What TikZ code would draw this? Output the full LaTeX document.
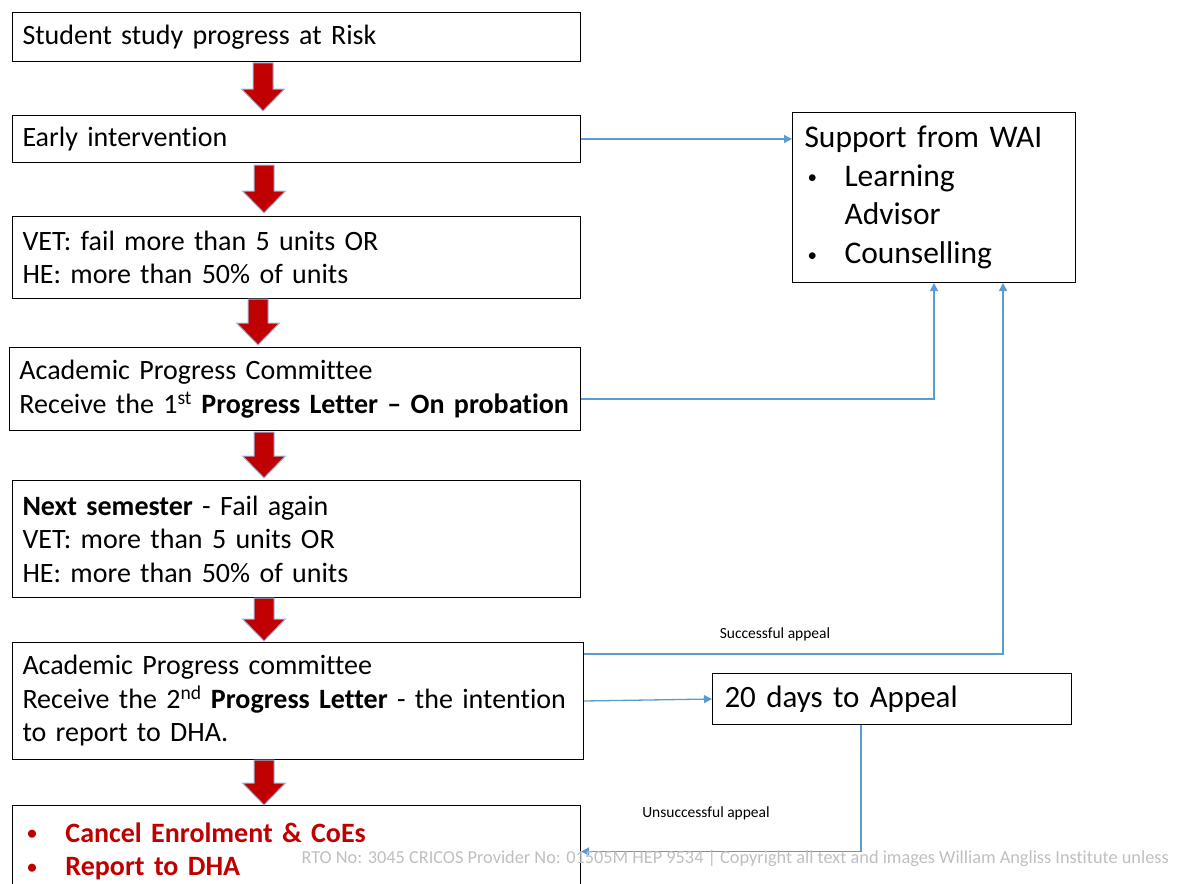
\documentclass[tikz,border=0pt]{standalone}
\usepackage{fontspec}
\setmainfont{Carlito}[Ligatures=CommonOff]
\usetikzlibrary{arrows.meta, positioning}

\definecolor{darkred}{HTML}{C00000}
\definecolor{arrowedge}{HTML}{9DB9E0}
\definecolor{linkblue}{HTML}{5B9BD5}
\definecolor{footgray}{HTML}{BFBFBF}

% small list bullet
\newcommand{\smallbullet}{\raisebox{2.5pt}{\fontsize{19}{19}\selectfont\textbullet}}

% block arrow pointing down: #1 = centre x, #2 = top y, #3 = length
\newcommand{\downarrowat}[3]{%
	\draw[downarrow] (#1-10,#2) -- (#1+10,#2) -- (#1+10,#2+#3-22) -- (#1+21.5,#2+#3-22)
		-- (#1,#2+#3) -- (#1-21.5,#2+#3-22) -- (#1-10,#2+#3-22) -- cycle;}

\begin{document}
\begin{tikzpicture}[
	x = 1pt, y = -1pt,
	> = {Triangle[length=8pt,width=8pt]},
	flowbox/.style = {draw, line width=1pt, anchor=north west, align=left, inner xsep=10pt, inner ysep=0pt, font=\fontsize{28}{33.5}\selectfont},
	bigbox/.style = {draw, line width=1pt, anchor=north west, align=left, inner xsep=12pt, inner ysep=0pt, font=\fontsize{31.5}{38.7}\selectfont},
	downarrow/.style = {fill=darkred, draw=arrowedge, line width=1pt, line join=miter},
	link/.style = {->, draw=linkblue, line width=1.3pt},
	note/.style = {font=\fontsize{15.5}{18}\selectfont}
	]
	\useasboundingbox (0,0) rectangle (1180,883);
	% main column
	\node[flowbox, minimum width=568, minimum height=49, text width=548] (risk) at (12,12) {Student study progress at Risk};
	\node[flowbox, minimum width=568, minimum height=47, text width=548] (early) at (12,115) {Early intervention};
	\node[flowbox, minimum width=568, minimum height=82, text width=548] (fail) at (12,216) {VET: fail more than 5 units OR\\HE: more than 50\% of units};
	\node[flowbox, minimum width=571, minimum height=83, text width=551] (apcone) at (9,347) {Academic Progress Committee\\\mbox{Receive the 1\textsuperscript{st} \textbf{Progress Letter – On probation}}};
	\node[flowbox, minimum width=568, minimum height=117, text width=548] (next) at (12,480) {\textbf{Next semester} - Fail again\\VET: more than 5 units OR\\HE: more than 50\% of units};
	\node[flowbox, minimum width=571, minimum height=117, text width=551] (apctwo) at (12,642) {Academic Progress committee\\\mbox{Receive the 2\textsuperscript{nd} \textbf{Progress Letter} - the intention}\\to report to DHA.};
	\node[flowbox, minimum width=568, minimum height=92, text width=548, text=darkred, font=\fontsize{28}{33.5}\selectfont\bfseries] (cancel) at (12,805) {\hspace{5pt}\makebox[38pt][l]{\smallbullet}Cancel Enrolment \& CoEs\\\hspace{5pt}\makebox[38pt][l]{\smallbullet}Report to DHA};
	% side boxes
	\node[bigbox, minimum width=283, minimum height=170, text width=259] (support) at (792,112) {Support from WAI\\\makebox[40pt][l]{\hspace{3pt}\smallbullet}Learning\\\hspace{40pt}Advisor\\\makebox[40pt][l]{\hspace{3pt}\smallbullet}Counselling};
	\node[bigbox, minimum width=359, minimum height=51, text width=335, font=\fontsize{31}{38}\selectfont] (appeal) at (712,673) {20 days to Appeal};
	% red arrows
	\downarrowat{263}{63}{48}
	\downarrowat{264}{165}{48}
	\downarrowat{258}{299}{46}
	\downarrowat{264}{432}{46}
	\downarrowat{264}{598}{43}
	\downarrowat{264}{760}{45}
	% blue connectors
	\draw[link] (early.east) -- (support.west |- early.east);
	\draw[link] ([yshift=-10pt]apcone.east) -| (support.south);
	\draw[link] ([yshift=-12pt]apctwo.north east) -| ([xshift=-73pt]support.south east);
	\draw[link] (apctwo.east) -- (appeal.west);
	\draw[link] ([xshift=-31pt]appeal.south) |- (cancel.east);
	\node[note] (ok) at (775,634) {Successful appeal};
	\node[note] (nok) at (706,813) {Unsuccessful appeal};
	% footer
	\node[anchor=west, text=footgray, font=\fontsize{18.3}{21}\selectfont] (footer) at (298,858) {RTO No: 3045 CRICOS Provider No: 01505M HEP 9534 | Copyright all text and images William Angliss Institute unless};
\end{tikzpicture}
\end{document}
